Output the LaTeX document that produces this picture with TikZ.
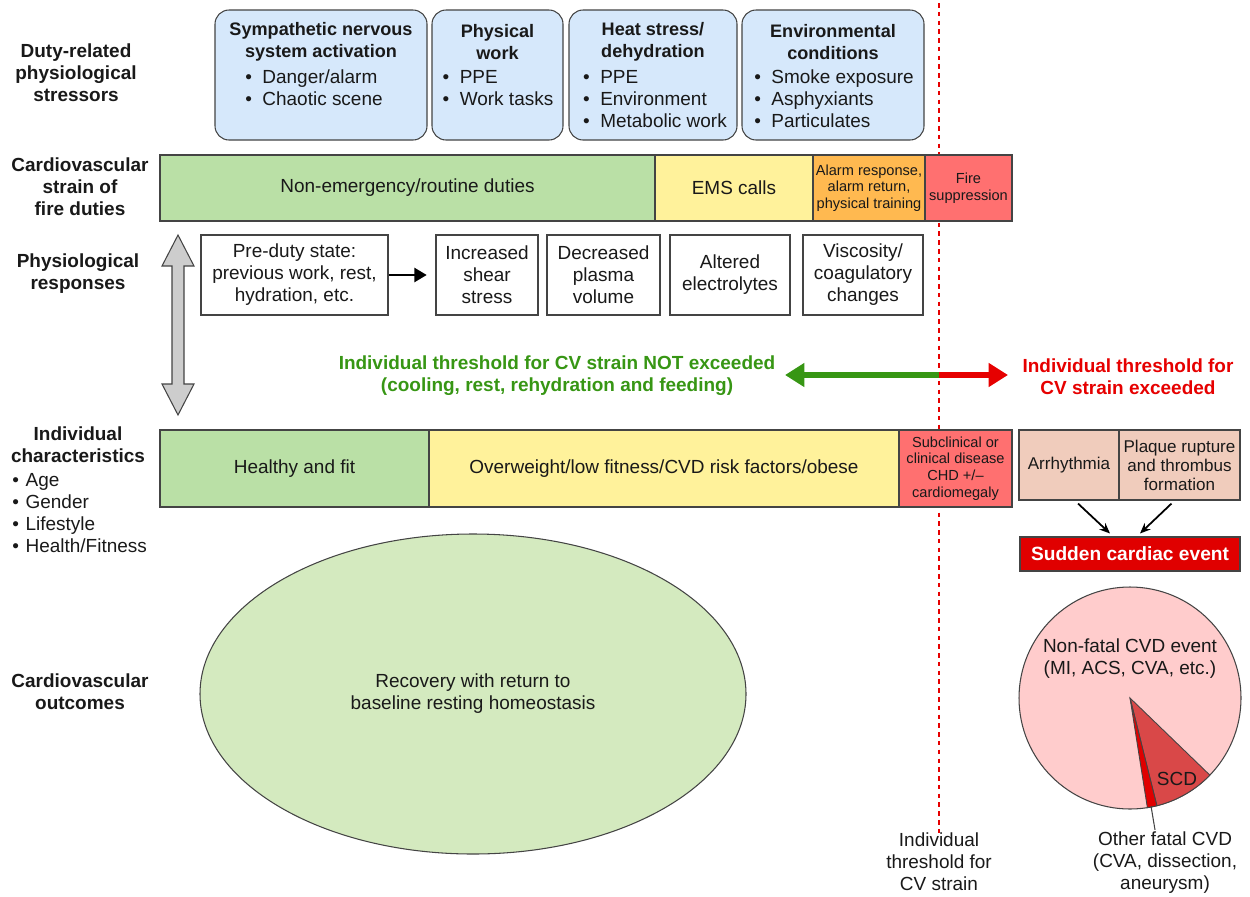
\documentclass[tikz,border=0pt]{standalone}
\usepackage{fontspec}
\setmainfont{Liberation Sans}
\usetikzlibrary{arrows.meta,shapes.geometric,calc}
\definecolor{edge}{RGB}{68,68,68}
\definecolor{txt}{RGB}{25,25,25}
\definecolor{bluebox}{RGB}{214,232,251}
\definecolor{gbar}{RGB}{186,224,166}
\definecolor{ybar}{RGB}{255,242,155}
\definecolor{obar}{RGB}{255,185,80}
\definecolor{rbar}{RGB}{255,112,112}
\definecolor{salmon}{RGB}{240,204,188}
\definecolor{sce}{RGB}{224,0,0}
\definecolor{ellg}{RGB}{212,234,191}
\definecolor{pink}{RGB}{255,204,204}
\definecolor{scd}{RGB}{217,72,72}
\definecolor{thrgreen}{RGB}{55,150,20}
\definecolor{thrred}{RGB}{230,0,0}
\definecolor{arrgray}{RGB}{205,205,205}
\newcommand{\bul}{•\hspace{0.55em}}
\begin{document}
\begin{tikzpicture}[x=0.02cm,y=-0.02cm,
  font=\fontsize{10.8}{12.5}\selectfont, text=txt,
  sz/.style 2 args={minimum width=#1*0.02cm, minimum height=#2*0.02cm, inner sep=0pt},
  seg/.style={draw=edge, line width=0.6pt, align=center, inner sep=0pt},
  stress/.style={seg, fill=bluebox, rounded corners=8pt},
  title/.style={align=center, font=\fontsize{10.3}{12.5}\selectfont\bfseries, inner sep=0pt},
  blist/.style={align=left, inner sep=0pt},
  lab/.style={align=center, font=\fontsize{10.8}{12.5}\selectfont\bfseries, inner sep=0pt},
  small/.style={font=\fontsize{8.3}{9.5}\selectfont},
  mid/.style={font=\fontsize{9.7}{10.8}\selectfont},
  plain/.style={align=center, inner sep=0pt},
  thin/.style={-{Stealth[length=6pt,width=5pt]}, line width=1pt, draw=black},
  thr/.style={line width=3.4pt, -{Triangle[length=11pt,width=13pt]}}
]
\useasboundingbox (0,0) rectangle (1250,896);

% threshold dotted line (behind)
\coordinate (thtop) at (939,3);
\node[plain] (thlab) at (939,862) {Individual\\threshold for\\CV strain};
\draw[thrred, line width=1.5pt, dash pattern=on 2.6pt off 2.4pt] (thtop) -- (thlab.north);

% left labels
\node[lab] (L1) at (76,73) {Duty-related\\physiological\\stressors};
\node[lab] (L2) at (80,187) {Cardiovascular\\strain of\\fire duties};
\node[lab] (L3) at (78,274) {Physiological\\responses};
\node[lab] (L4) at (78,445) {Individual\\characteristics};
\node[blist, anchor=west] (L4b) at (12,513) {•\hspace{0.35em}Age\\•\hspace{0.35em}Gender\\•\hspace{0.35em}Lifestyle\\•\hspace{0.35em}Health/Fitness};
\node[lab] (L5) at (80,692) {Cardiovascular\\outcomes};

% stressor boxes
\node[stress, sz={212}{130}] (b1) at (321,75) {};
\node[title] (b1t) at (321,42) {Sympathetic nervous\\system activation};
\node[blist] (b1l) at (314,88) {\bul Danger/alarm\\\bul Chaotic scene};
\node[stress, sz={131}{130}] (b2) at (497.5,75) {};
\node[title] (b2t) at (497.5,42) {Physical\\work};
\node[blist] (b2l) at (498,88) {\bul PPE\\\bul Work tasks};
\node[stress, sz={168}{130}] (b3) at (653,75) {};
\node[title] (b3t) at (653,42) {Heat stress/\\dehydration};
\node[blist] (b3l) at (655,99) {\bul PPE\\\bul Environment\\\bul Metabolic work};
\node[stress, sz={182}{130}] (b4) at (833,75) {};
\node[title] (b4t) at (833,42) {Environmental\\conditions};
\node[blist] (b4l) at (834,99) {\bul Smoke exposure\\\bul Asphyxiants\\\bul Particulates};

% strain bar
\node[seg, fill=gbar, sz={495}{66}] (s1) at (407.5,188) {Non-emergency/routine duties};
\node[seg, fill=ybar, sz={158}{66}] (s2) at (734,188) {EMS calls};
\node[seg, fill=obar, sz={112}{66}, small] (s3) at (869,188) {Alarm response,\\alarm return,\\physical training};
\node[seg, fill=rbar, sz={87}{66}, small] (s4) at (968.5,188) {Fire\\suppression};

% physiological responses
\node[seg, fill=white, sz={187}{80}] (r0) at (294.5,275) {Pre-duty state:\\previous work, rest,\\hydration, etc.};
\node[seg, fill=white, sz={102}{80}] (r1) at (487,275) {Increased\\shear\\stress};
\node[seg, fill=white, sz={113}{80}] (r2) at (603.5,275) {Decreased\\plasma\\volume};
\node[seg, fill=white, sz={120}{80}] (r3) at (730,275) {Altered\\electrolytes};
\node[seg, fill=white, sz={120}{80}] (r4) at (863,275) {Viscosity/\\coagulatory\\changes};
\draw[-{Triangle[length=7pt,width=8pt]}, line width=1.3pt, shorten >=5pt] (r0) -- (r1);

% gray double arrow
\draw[draw=edge, fill=arrgray, line width=0.6pt]
  (178,235) -- (194,266) -- (184,266) -- (184,384) -- (194,384) -- (178,415)
  -- (162,384) -- (172,384) -- (172,266) -- (162,266) -- cycle;

% threshold arrows
\coordinate (thr) at (939,375);
\coordinate (thrL) at (785,375);
\coordinate (thrR) at (1008,375);
\draw[thr, thrgreen] (thr) -- (thrL);
\draw[thr, thrred] (thr) -- (thrR);
\node[lab, text=thrgreen] (tg) at (557,376) {Individual threshold for CV strain NOT exceeded\\(cooling, rest, rehydration and feeding)};
\node[lab, text=thrred] (tr) at (1128,377) {Individual threshold for\\CV strain exceeded};

% individual characteristics bar
\node[seg, fill=gbar, sz={269}{77}] (i1) at (294.5,468.5) {Healthy and fit};
\node[seg, fill=ybar, sz={470}{77}] (i2) at (664,468.5) {Overweight/low fitness/CVD risk factors/obese};
\node[seg, fill=rbar, sz={113}{77}, small] (i3) at (955.5,468.5) {Subclinical or\\clinical disease\\CHD +/–\\cardiomegaly};

% exceeded outcomes
\node[seg, fill=salmon, sz={100}{70}, mid] (a1) at (1069,465) {Arrhythmia};
\node[seg, fill=salmon, sz={121}{70}, mid] (a2) at (1179.5,465) {Plaque rupture\\and thrombus\\formation};
\node[seg, fill=sce, sz={220}{34}, text=white, font=\fontsize{10.9}{12}\selectfont\bfseries] (ev) at (1130,554) {Sudden cardiac event};
\draw[thin] ($(a1.south)+(9,3)$) -- ($(ev.north)+(-20,-3)$);
\draw[thin] ($(a2.south)+(-8,3)$) -- ($(ev.north)+(10,-3)$);

% recovery ellipse
\node[ellipse, draw=edge, line width=0.6pt, fill=ellg, minimum width=546*0.02cm, minimum height=320*0.02cm, inner sep=0pt, align=center] (rec) at (473,694) {Recovery with return to\\baseline resting homeostasis};

% pie chart
\node[circle, draw=edge, line width=0.6pt, fill=pink, minimum size=222*0.02cm, inner sep=0pt] (pie) at (1130,698) {};
\draw[draw=edge, line width=0.5pt, fill=scd] (pie.center) -- ++(44:111) arc[start angle=44, end angle=76, radius=111] -- cycle;
\draw[draw=edge, line width=0.5pt, fill=sce] (pie.center) -- ++(76:111) arc[start angle=76, end angle=81, radius=111] -- cycle;
\node[plain] (nf) at (1130,659) {Non-fatal CVD event\\(MI, ACS, CVA, etc.)};
\node[plain] (scdl) at (1177,779) {SCD};
\node[plain] (other) at (1165,863) {Other fatal CVD\\(CVA, dissection,\\aneurysm)};
\coordinate (ofc) at (1151,806);
\draw[edge, line width=0.6pt] (ofc) -- ($(other.north)+(-10,-2)$);
\end{tikzpicture}
\end{document}
